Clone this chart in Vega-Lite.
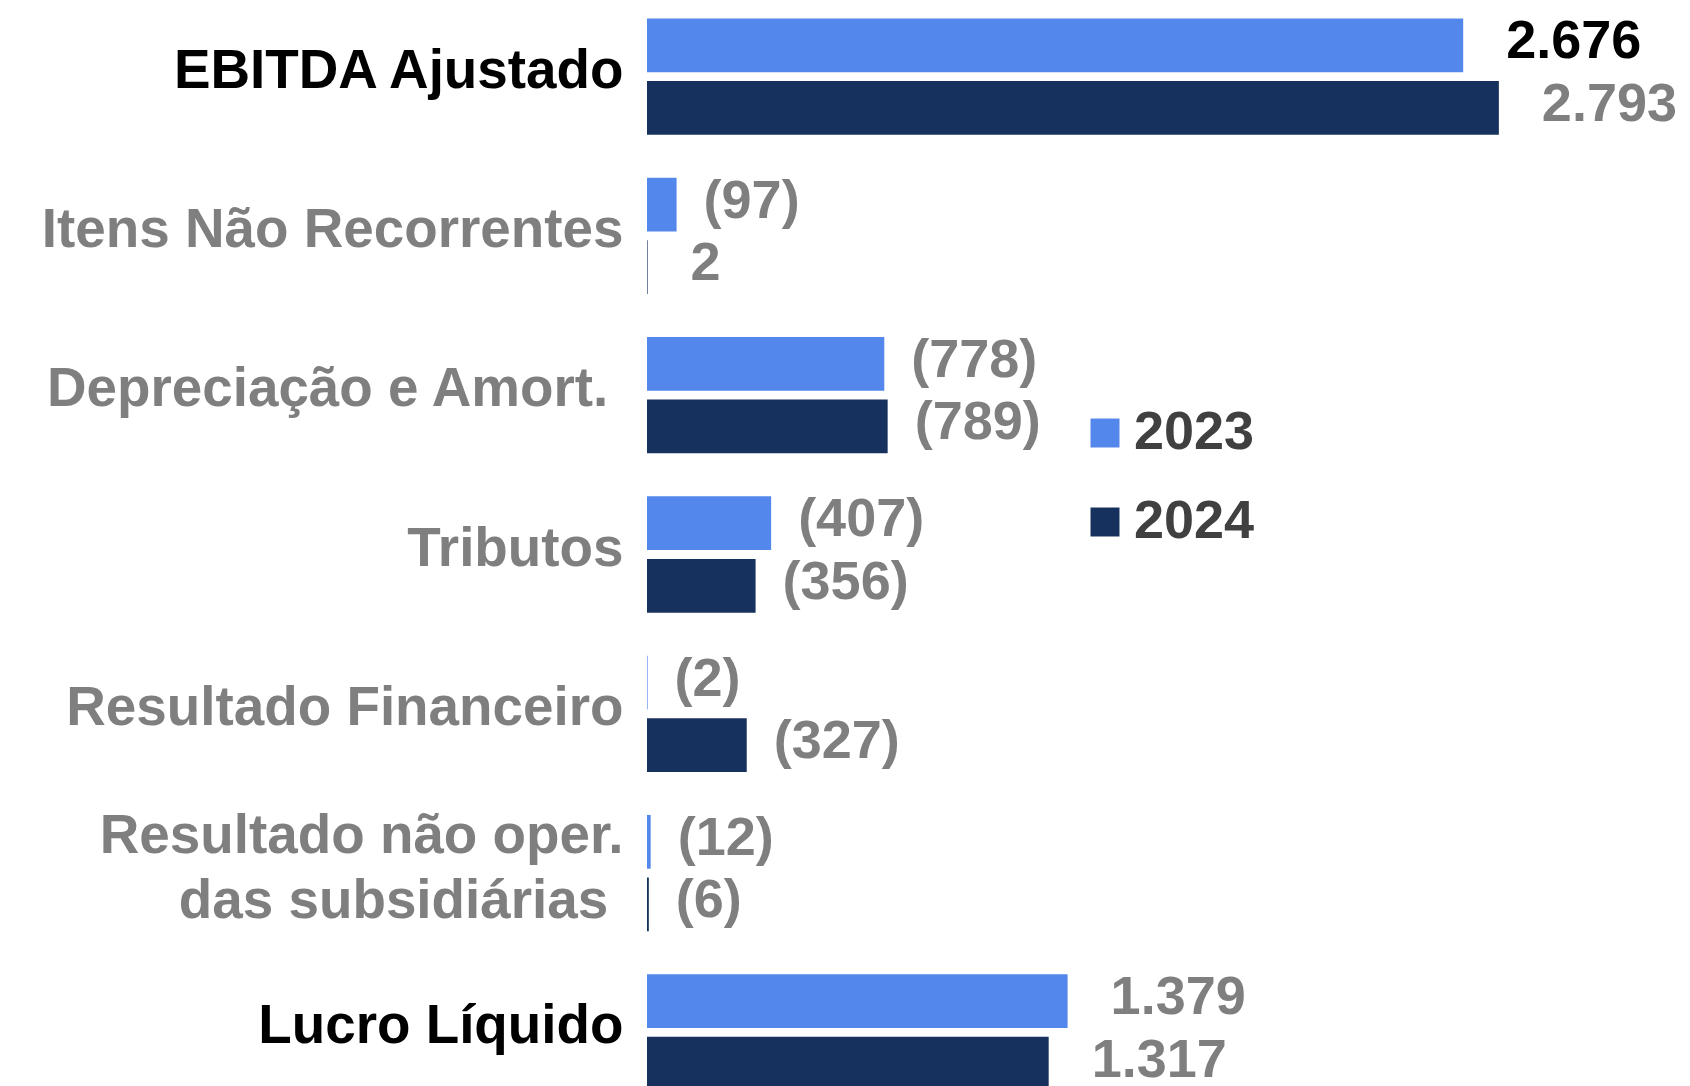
{
  "$schema": "https://vega.github.io/schema/vega-lite/v6.json",
  "width": 1037,
  "height": 1115,
  "autosize": {"type": "none"},
  "padding": {"left": 647, "top": -3, "right": 0, "bottom": 0},
  "background": "white",
  "config": {"view": {"stroke": null}, "font": "Liberation Sans"},
  "data": {
    "values": [
      {"item": "EBITDA Ajustado", "year": "2023", "value": 2676, "label": "2.676"},
      {"item": "EBITDA Ajustado", "year": "2024", "value": 2793, "label": "2.793"},
      {"item": "Itens Não Recorrentes", "year": "2023", "value": 97, "label": "(97)"},
      {"item": "Itens Não Recorrentes", "year": "2024", "value": 2, "label": "2"},
      {"item": "Depreciação e Amort.", "year": "2023", "value": 778, "label": "(778)"},
      {"item": "Depreciação e Amort.", "year": "2024", "value": 789, "label": "(789)"},
      {"item": "Tributos", "year": "2023", "value": 407, "label": "(407)"},
      {"item": "Tributos", "year": "2024", "value": 356, "label": "(356)"},
      {"item": "Resultado Financeiro", "year": "2023", "value": 2, "label": "(2)"},
      {"item": "Resultado Financeiro", "year": "2024", "value": 327, "label": "(327)"},
      {"item": "Resultado não oper. das subsidiárias", "year": "2023", "value": 12, "label": "(12)"},
      {"item": "Resultado não oper. das subsidiárias", "year": "2024", "value": 6, "label": "(6)"},
      {"item": "Lucro Líquido", "year": "2023", "value": 1379, "label": "1.379"},
      {"item": "Lucro Líquido", "year": "2024", "value": 1317, "label": "1.317"}
    ]
  },
  "encoding": {
    "y": {
      "field": "item",
      "type": "nominal",
      "sort": ["EBITDA Ajustado", "Itens Não Recorrentes", "Depreciação e Amort.", "Tributos", "Resultado Financeiro", "Resultado não oper. das subsidiárias", "Lucro Líquido"],
      "scale": {"paddingInner": 0.27, "paddingOuter": 0.135},
      "axis": {
        "title": null,
        "domain": false,
        "ticks": false,
        "grid": false,
        "labelPadding": 24,
        "labelFontSize": 54.8,
        "labelFont": "Liberation Sans",
        "labelFontWeight": "bold",
        "labelLimit": 800,
        "labelLineHeight": 65,
        "labelExpr": "datum.value == 'Resultado não oper. das subsidiárias' ? ['Resultado não oper.', 'das subsidiárias\u00a0\u200b'] : (datum.value == 'Depreciação e Amort.' ? 'Depreciação e Amort.\u00a0\u200b' : datum.value)",
        "labelOffset": {
          "condition": {"test": "datum.value == 'Resultado não oper. das subsidiárias'", "value": -36},
          "value": -5
        },
        "labelColor": {
          "condition": {"test": "datum.value == 'EBITDA Ajustado' || datum.value == 'Lucro Líquido'", "value": "#000000"},
          "value": "#7f7f7f"
        }
      }
    },
    "yOffset": {"field": "year", "type": "nominal", "scale": {"paddingInner": 0.141, "paddingOuter": 0}},
    "x": {"field": "value", "type": "quantitative", "scale": {"domain": [0, 3400], "nice": false}, "axis": null}
  },
  "layer": [
    {
      "mark": {"type": "bar"},
      "encoding": {
        "color": {
          "field": "year",
          "type": "nominal",
          "scale": {"domain": ["2023", "2024"], "range": ["#5487eb", "#17315e"]},
          "legend": {
            "title": null,
            "orient": "none",
            "legendX": 431,
            "legendY": 409,
            "direction": "vertical",
            "symbolType": "square",
            "symbolSize": 840,
            "symbolStrokeWidth": 0,
            "labelFontSize": 54,
            "labelFont": "Liberation Sans",
            "labelFontWeight": "bold",
            "labelColor": "#404040",
            "labelOffset": 2,
            "rowPadding": 35
          }
        }
      }
    },
    {
      "transform": [{"filter": "indexof(datum.label, '(') >= 0"}],
      "mark": {"type": "text", "align": "left", "baseline": "middle", "dx": 27, "dy": -3, "fontSize": 54, "fontWeight": "bold", "font": "Liberation Sans"},
      "encoding": {"text": {"field": "label"}, "color": {"value": "#7f7f7f"}}
    },
    {
      "transform": [{"filter": "indexof(datum.label, '(') < 0"}],
      "mark": {"type": "text", "align": "left", "baseline": "middle", "dx": 43, "dy": -3, "fontSize": 54, "fontWeight": "bold", "font": "Liberation Sans"},
      "encoding": {
        "text": {"field": "label"},
        "color": {
          "condition": {"test": "datum.item == 'EBITDA Ajustado' && datum.year == '2023'", "value": "#000000"},
          "value": "#7f7f7f"
        }
      }
    }
  ]
}
